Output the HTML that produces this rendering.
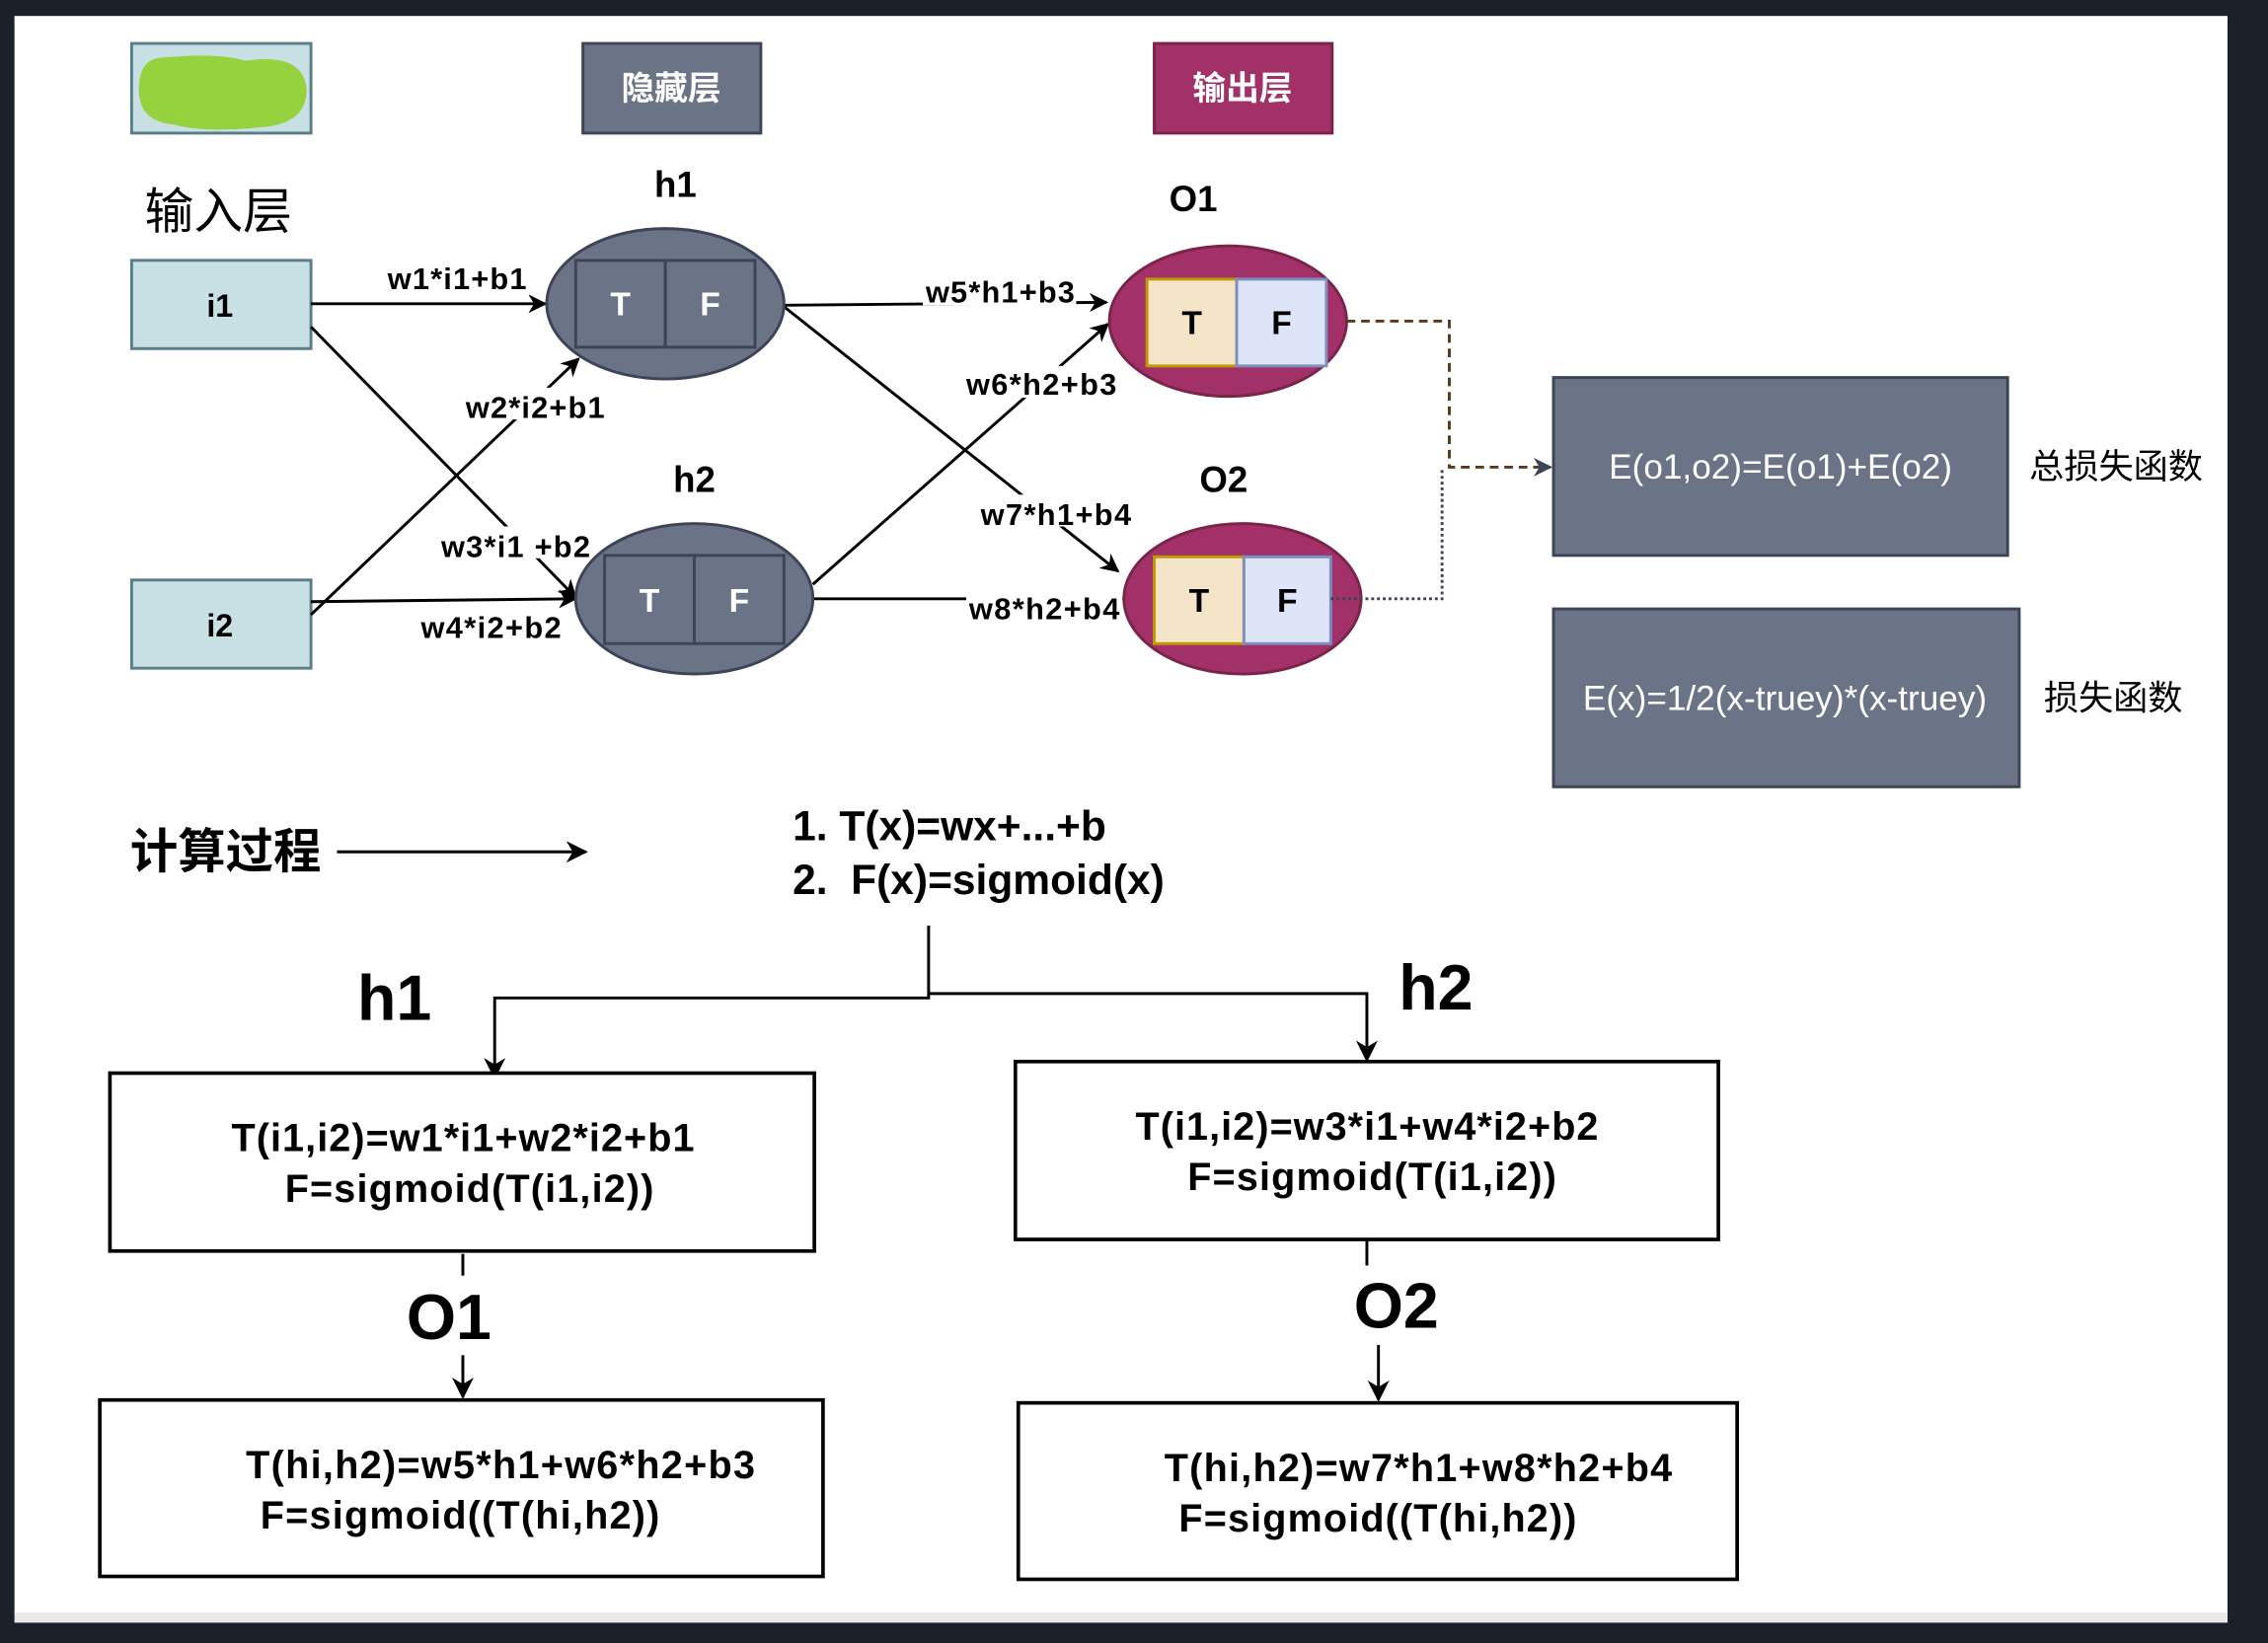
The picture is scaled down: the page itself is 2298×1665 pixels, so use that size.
<!DOCTYPE html>
<html><head><meta charset="utf-8">
<style>
html,body{margin:0;padding:0;background:#1c2129;}
svg{display:block;}
text{font-family:"Liberation Sans","Noto Sans CJK SC",sans-serif;}
</style></head>
<body>
<svg width="2298" height="1665" viewBox="0 0 1568 1136" xmlns="http://www.w3.org/2000/svg">
<defs>
<marker id="a" viewBox="0 0 10 10" refX="9" refY="5" markerWidth="13" markerHeight="13" orient="auto" markerUnits="userSpaceOnUse">
<path d="M0,0 L10,5 L0,10 L3,5 z" fill="#000"/></marker>
<marker id="b" viewBox="0 0 10 10" refX="9" refY="5" markerWidth="15" markerHeight="15" orient="auto" markerUnits="userSpaceOnUse">
<path d="M0,0 L10,5 L0,10 L3,5 z" fill="#000"/></marker>
<marker id="c" viewBox="0 0 10 10" refX="9" refY="5" markerWidth="13" markerHeight="13" orient="auto" markerUnits="userSpaceOnUse">
<path d="M0,0 L10,5 L0,10 L3,5 z" fill="#3d4455"/></marker>
</defs>
<rect x="0" y="0" width="1568" height="1136" fill="#1c2129"/>
<rect x="10" y="11" width="1530" height="1105" fill="#fff"/>
<rect x="10" y="1115" width="1530" height="7" fill="#e9e9e9"/>

<rect x="91" y="30" width="124" height="62" fill="#c8e0e4" stroke="#5a7d87" stroke-width="2"/>
<path d="M110,40 Q150,36 170,42 Q210,36 212,62 Q212,86 180,88 Q140,92 120,86 Q96,84 96,62 Q96,42 110,40 z" fill="#95d23e"/>
<rect x="403" y="30" width="123" height="62" fill="#6b7386" stroke="#3d4455" stroke-width="2"/>
<text x="464" y="69" font-size="23" font-weight="bold" fill="#fff" text-anchor="middle">隐藏层</text>
<rect x="798" y="30" width="123" height="62" fill="#a33169" stroke="#7a2447" stroke-width="2"/>
<text x="859" y="69" font-size="23" font-weight="bold" fill="#fff" text-anchor="middle">输出层</text>
<text x="100" y="158" font-size="34" fill="#000">输入层</text>

<rect x="91" y="180" width="124" height="61" fill="#c8e0e4" stroke="#5a7d87" stroke-width="2"/>
<text x="152" y="219" font-size="22" font-weight="bold" text-anchor="middle">i1</text>
<rect x="91" y="401" width="124" height="61" fill="#c8e0e4" stroke="#5a7d87" stroke-width="2"/>
<text x="152" y="440" font-size="22" font-weight="bold" text-anchor="middle">i2</text>

<g stroke="#000" stroke-width="2" fill="none">
<line x1="215" y1="210" x2="377" y2="210" marker-end="url(#a)"/>
<line x1="215" y1="226" x2="398" y2="413" marker-end="url(#a)"/>
<line x1="215" y1="425" x2="400" y2="248" marker-end="url(#a)"/>
<line x1="215" y1="416" x2="398" y2="414" marker-end="url(#a)"/>
<line x1="542" y1="211" x2="765" y2="209" marker-end="url(#a)"/>
<line x1="542" y1="212" x2="773" y2="395" marker-end="url(#a)"/>
<line x1="562" y1="404" x2="766" y2="224" marker-end="url(#a)"/>
<line x1="562" y1="414" x2="777" y2="414"/>
</g>
<g font-size="21" font-weight="bold" fill="#000">
<rect x="266" y="180" width="100" height="22" fill="#fff"/><text x="268" y="200" textLength="96">w1*i1+b1</text>
<rect x="320" y="268" width="100" height="22" fill="#fff"/><text x="322" y="289" textLength="96">w2*i2+b1</text>
<rect x="303" y="364" width="106" height="22" fill="#fff"/><text x="305" y="385" textLength="103">w3*i1 +b2</text>
<rect x="289" y="421" width="100" height="22" fill="#fff"/><text x="291" y="441" textLength="97">w4*i2+b2</text>
<rect x="638" y="189" width="106" height="22" fill="#fff"/><text x="640" y="209" textLength="103">w5*h1+b3</text>
<rect x="666" y="253" width="108" height="22" fill="#fff"/><text x="668" y="273" textLength="104">w6*h2+b3</text>
<rect x="676" y="342" width="108" height="22" fill="#fff"/><text x="678" y="363" textLength="104">w7*h1+b4</text>
<rect x="668" y="408" width="108" height="22" fill="#fff"/><text x="670" y="428" textLength="104">w8*h2+b4</text>
</g>

<text x="467" y="136" font-size="25" font-weight="bold" text-anchor="middle">h1</text>
<ellipse cx="460" cy="210" rx="82" ry="52" fill="#6b7386" stroke="#3d4455" stroke-width="2"/>
<rect x="398" y="180" width="62" height="60" fill="#6b7386" stroke="#3d4455" stroke-width="2"/>
<rect x="460" y="180" width="62" height="60" fill="#6b7386" stroke="#3d4455" stroke-width="2"/>
<text x="429" y="218" font-size="23" font-weight="bold" fill="#fff" text-anchor="middle">T</text>
<text x="491" y="218" font-size="23" font-weight="bold" fill="#fff" text-anchor="middle">F</text>

<text x="480" y="340" font-size="25" font-weight="bold" text-anchor="middle">h2</text>
<ellipse cx="480" cy="414" rx="82" ry="52" fill="#6b7386" stroke="#3d4455" stroke-width="2"/>
<rect x="418" y="384" width="62" height="61" fill="#6b7386" stroke="#3d4455" stroke-width="2"/>
<rect x="480" y="384" width="62" height="61" fill="#6b7386" stroke="#3d4455" stroke-width="2"/>
<text x="449" y="423" font-size="23" font-weight="bold" fill="#fff" text-anchor="middle">T</text>
<text x="511" y="423" font-size="23" font-weight="bold" fill="#fff" text-anchor="middle">F</text>

<text x="825" y="146" font-size="25" font-weight="bold" text-anchor="middle">O1</text>
<ellipse cx="849" cy="222" rx="82" ry="52" fill="#a33169" stroke="#7a2447" stroke-width="2"/>
<rect x="793" y="193" width="62" height="60" fill="#f5e5c8" stroke="#c09a00" stroke-width="2"/>
<rect x="855" y="193" width="62" height="60" fill="#dfe5f8" stroke="#7d8fc1" stroke-width="2"/>
<text x="824" y="231" font-size="23" font-weight="bold" text-anchor="middle">T</text>
<text x="886" y="231" font-size="23" font-weight="bold" text-anchor="middle">F</text>

<text x="846" y="340" font-size="25" font-weight="bold" text-anchor="middle">O2</text>
<ellipse cx="859" cy="414" rx="82" ry="52" fill="#a33169" stroke="#7a2447" stroke-width="2"/>
<rect x="798" y="385" width="62" height="60" fill="#f5e5c8" stroke="#c09a00" stroke-width="2"/>
<rect x="860" y="385" width="60" height="60" fill="#dfe5f8" stroke="#7d8fc1" stroke-width="2"/>
<text x="829" y="423" font-size="23" font-weight="bold" text-anchor="middle">T</text>
<text x="890" y="423" font-size="23" font-weight="bold" text-anchor="middle">F</text>

<polyline points="931,222 1002,222 1002,323 1072,323" fill="none" stroke="#5a3a1a" stroke-width="2" stroke-dasharray="6,4" marker-end="url(#c)"/>
<polyline points="920,414 997,414 997,323" fill="none" stroke="#3d4455" stroke-width="2" stroke-dasharray="2,2"/>

<rect x="1074" y="261" width="314" height="123" fill="#6b7386" stroke="#3d4455" stroke-width="2"/>
<text x="1231" y="331" font-size="24" fill="#fff" text-anchor="middle">E(o1,o2)=E(o1)+E(o2)</text>
<text x="1403" y="331" font-size="24">总损失函数</text>
<rect x="1074" y="421" width="322" height="123" fill="#6b7386" stroke="#3d4455" stroke-width="2"/>
<text x="1234" y="491" font-size="24" fill="#fff" text-anchor="middle">E(x)=1/2(x-truey)*(x-truey)</text>
<text x="1413" y="491" font-size="24">损失函数</text>

<text x="90" y="600" font-size="33" font-weight="bold">计算过程</text>
<line x1="233" y1="589" x2="405" y2="589" stroke="#000" stroke-width="2" marker-end="url(#b)"/>
<text x="548" y="581" font-size="29" font-weight="bold">1. T(x)=wx+...+b</text>
<text x="548" y="618" font-size="29" font-weight="bold" xml:space="preserve">2.  F(x)=sigmoid(x)</text>
<g stroke="#000" stroke-width="2" fill="none">
<polyline points="642,640 642,690 342,690 342,745" marker-end="url(#b)"/>
<polyline points="642,687 945,687 945,733" marker-end="url(#b)"/>
<line x1="320" y1="867" x2="320" y2="882"/>
<line x1="320" y1="937" x2="320" y2="966" marker-end="url(#b)"/>
<line x1="945" y1="857" x2="945" y2="875"/>
<line x1="953" y1="930" x2="953" y2="968" marker-end="url(#b)"/>
</g>
<text x="247" y="705" font-size="44" font-weight="bold">h1</text>
<text x="967" y="698" font-size="44" font-weight="bold">h2</text>
<text x="281" y="926" font-size="44" font-weight="bold">O1</text>
<text x="936" y="918" font-size="44" font-weight="bold">O2</text>

<g fill="#fff" stroke="#000" stroke-width="2.5">
<rect x="76" y="742" width="487" height="123"/>
<rect x="702" y="734" width="486" height="123"/>
<rect x="69" y="968" width="500" height="122"/>
<rect x="704" y="970" width="497" height="122"/>
</g>
<g font-size="27" font-weight="bold">
<text x="160" y="796" textLength="320">T(i1,i2)=w1*i1+w2*i2+b1</text>
<text x="197" y="831" textLength="255">F=sigmoid(T(i1,i2))</text>
<text x="785" y="788" textLength="320">T(i1,i2)=w3*i1+w4*i2+b2</text>
<text x="821" y="823" textLength="255">F=sigmoid(T(i1,i2))</text>
<text x="170" y="1022" textLength="352">T(hi,h2)=w5*h1+w6*h2+b3</text>
<text x="180" y="1057" textLength="276">F=sigmoid((T(hi,h2))</text>
<text x="805" y="1024" textLength="351">T(hi,h2)=w7*h1+w8*h2+b4</text>
<text x="815" y="1059" textLength="275">F=sigmoid((T(hi,h2))</text>
</g>
</svg>
</body></html>
